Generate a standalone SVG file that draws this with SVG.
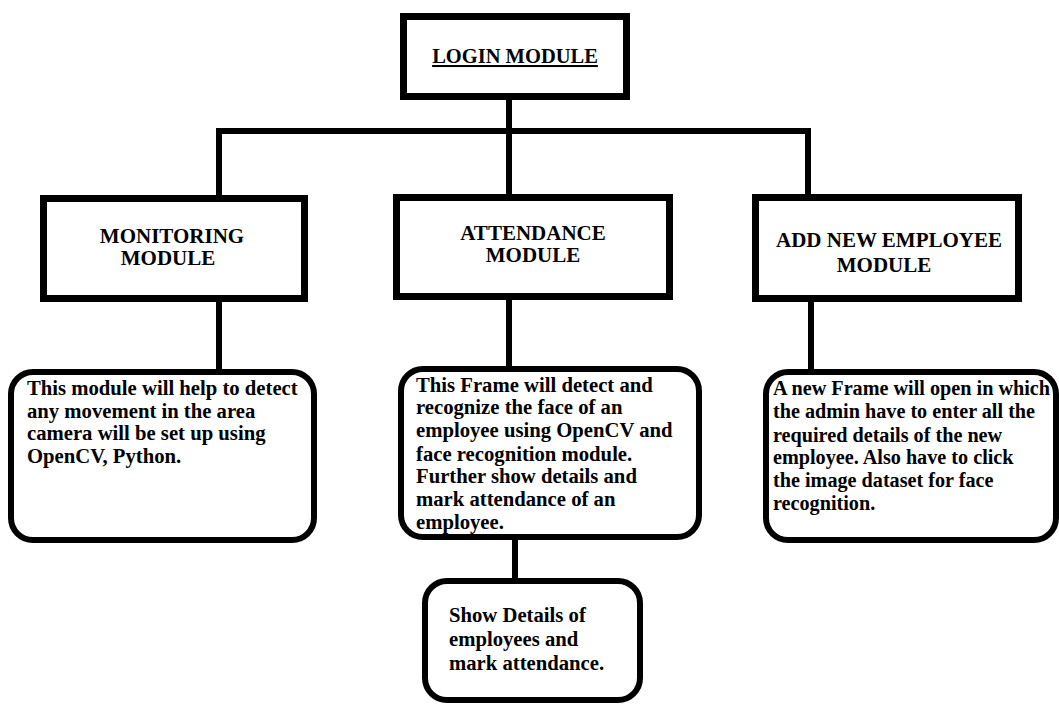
<svg xmlns="http://www.w3.org/2000/svg" width="1059" height="704" viewBox="0 0 1059 704">
<style>
.box{fill:#fff;stroke:#000;stroke-width:7}
.rbox{fill:#fff;stroke:#000;stroke-width:6}
.conn{fill:none;stroke:#000;stroke-width:6}
.h{font-family:"Liberation Serif","Times New Roman",serif;font-weight:bold;font-size:21px;fill:#000;text-anchor:middle}
.t{font-family:"Liberation Serif","Times New Roman",serif;font-weight:bold;font-size:20.7px;fill:#000}
.t2{font-size:20.2px}
</style>
<rect width="1059" height="704" fill="#fff"/>
<g id="connectors">
<path class="conn" d="M509 100V131M219 131H808M219 128V195M509 131V194M808 128V194"/>
<path class="conn" d="M219 302V369M509 300V366M811 302V369M515 540V578"/>
</g>
<g id="login">
<rect class="box" x="403.5" y="16.5" width="223" height="80"/>
<text class="h" x="515" y="63" text-decoration="underline" style="font-size:20.5px">LOGIN MODULE</text>
</g>
<g id="monitoring">
<rect class="box" x="43.5" y="198.5" width="261" height="100"/>
<text class="h" x="172" y="243">MONITORING</text>
<text class="h" x="168" y="265">MODULE</text>
</g>
<g id="attendance">
<rect class="box" x="396.5" y="197.5" width="273" height="99"/>
<text class="h" x="533" y="240">ATTENDANCE</text>
<text class="h" x="533" y="262">MODULE</text>
</g>
<g id="addnew">
<rect class="box" x="755.5" y="197.5" width="263" height="101"/>
<text class="h" x="889" y="247">ADD NEW EMPLOYEE</text>
<text class="h" x="884" y="272">MODULE</text>
</g>
<g id="monitoring-desc">
<rect class="rbox" x="11" y="372" width="303" height="168" rx="22"/>
<text class="t" x="27" y="395">This module will help to detect</text>
<text class="t" x="27" y="417.5">any movement in the area</text>
<text class="t" x="27" y="440">camera will be set up using</text>
<text class="t" x="27" y="462.5">OpenCV, Python.</text>
</g>
<g id="attendance-desc">
<rect class="rbox" x="401" y="369" width="298" height="168" rx="22"/>
<text class="t" x="416" y="391.5">This Frame will detect and</text>
<text class="t" x="416" y="414.3">recognize the face of an</text>
<text class="t" x="416" y="437.3">employee using OpenCV and</text>
<text class="t" x="416" y="460.5">face recognition module.</text>
<text class="t" x="416" y="483.3">Further show details and</text>
<text class="t" x="416" y="506">mark attendance of an</text>
<text class="t" x="416" y="528.5">employee.</text>
</g>
<g id="addnew-desc">
<rect class="rbox" x="766" y="372" width="290" height="168" rx="22"/>
<text class="t t2" x="773" y="395">A new Frame will open in which</text>
<text class="t t2" x="773" y="418.3">the admin have to enter all the</text>
<text class="t t2" x="773" y="441.7">required details of the new</text>
<text class="t t2" x="773" y="464">employee. Also have to click</text>
<text class="t t2" x="773" y="486.7">the image dataset for face</text>
<text class="t t2" x="773" y="510">recognition.</text>
</g>
<g id="show-details">
<rect class="rbox" x="425" y="581" width="215" height="119" rx="22"/>
<text class="t" x="449" y="621.7">Show Details of</text>
<text class="t" x="449" y="646">employees and</text>
<text class="t" x="449" y="670">mark attendance.</text>
</g>
</svg>
